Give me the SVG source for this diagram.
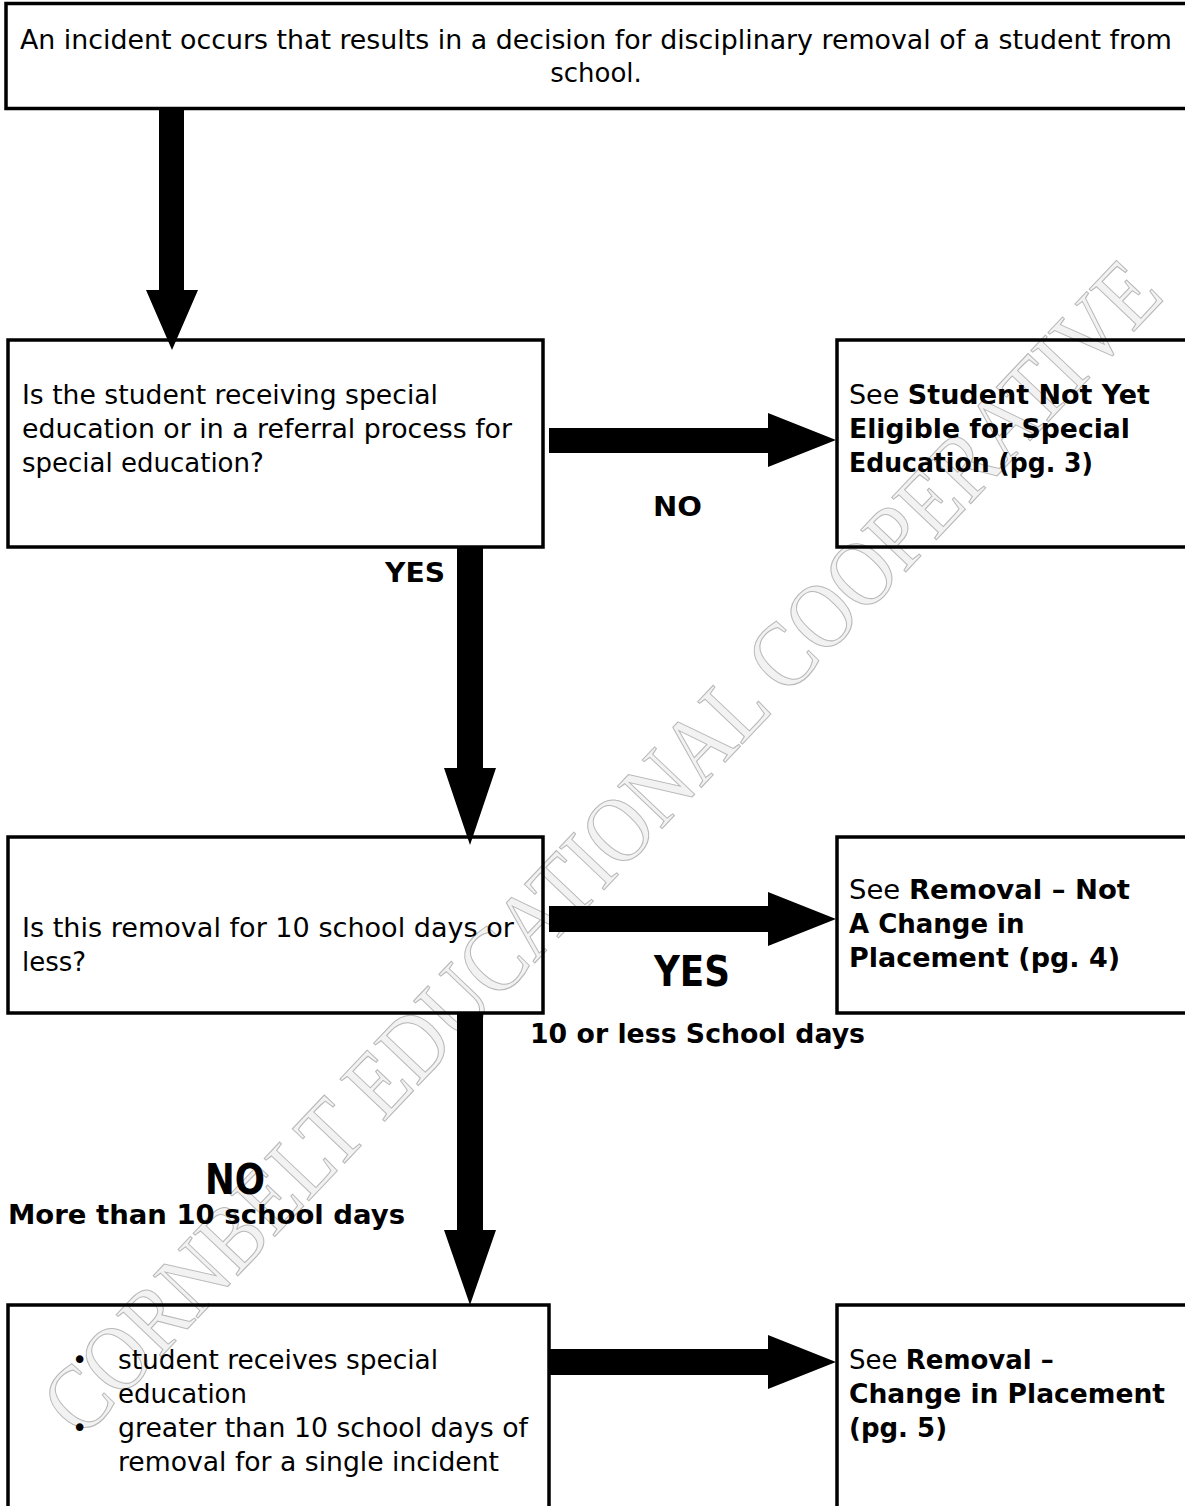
<svg xmlns="http://www.w3.org/2000/svg" width="1185" height="1506" viewBox="0 0 1185 1506">
<style>
.box{fill:none;stroke:#000;stroke-width:3.5}
.t{font-family:"DejaVu Sans",Tahoma,sans-serif;font-size:26px;fill:#000}
.b{font-weight:bold}
.big{font-size:42px}
.arrow{fill:#000;stroke:none}
.wm{font-family:"Liberation Serif",serif;font-size:94px;fill:#f2f2f2;stroke:#b8b8b8;stroke-width:1.1}
</style>
<rect width="1185" height="1506" fill="#fff"/>
<g id="watermark">
<text class="wm" transform="translate(82,1440) rotate(-46.5)" textLength="1575" lengthAdjust="spacingAndGlyphs">CORNBELT EDUCATIONAL COOPERATIVE</text>
</g>
<g id="connectors">
<polygon class="arrow" points="159,108 184,108 184,290 198,290 172,350 146,290 159,290"/>
<polygon class="arrow" points="549,428 768,428 768,413 836,440 768,467 768,453 549,453"/>
<polygon class="arrow" points="457,547 483,547 483,768 496,768 470,845 444,768 457,768"/>
<polygon class="arrow" points="549,906 768,906 768,892 836,919 768,946 768,932 549,932"/>
<polygon class="arrow" points="457,1013 483,1013 483,1230 496,1230 470,1305 444,1230 457,1230"/>
<polygon class="arrow" points="549,1349 768,1349 768,1335 836,1362 768,1389 768,1375 549,1375"/>
<text class="t b" x="653" y="516" textLength="49" lengthAdjust="spacingAndGlyphs">NO</text>
<text class="t b" x="385" y="582" textLength="60" lengthAdjust="spacingAndGlyphs">YES</text>
<text class="t b big" x="654" y="986" textLength="76" lengthAdjust="spacingAndGlyphs">YES</text>
<text class="t b" x="530" y="1043" textLength="335" lengthAdjust="spacingAndGlyphs">10 or less School days</text>
<text class="t b big" x="205" y="1194" textLength="60" lengthAdjust="spacingAndGlyphs">NO</text>
<text class="t b" x="8" y="1224" textLength="397" lengthAdjust="spacingAndGlyphs">More than 10 school days</text>
</g>
<g id="incident">
<rect class="box" x="6" y="3.5" width="1200" height="105"/>
<text class="t" x="20" y="49" textLength="1152" lengthAdjust="spacingAndGlyphs">An incident occurs that results in a decision for disciplinary removal of a student from</text>
<text class="t" x="596" y="82" text-anchor="middle">school.</text>
</g>
<g id="q-special-ed">
<rect class="box" x="8" y="340" width="535" height="207"/>
<text class="t" x="22" y="404" textLength="416" lengthAdjust="spacingAndGlyphs">Is the student receiving special</text>
<text class="t" x="22" y="438" textLength="490" lengthAdjust="spacingAndGlyphs">education or in a referral process for</text>
<text class="t" x="22" y="472">special education?</text>
</g>
<g id="not-eligible">
<rect class="box" x="837" y="340" width="400" height="207"/>
<text class="t" x="849" y="404" textLength="301" lengthAdjust="spacingAndGlyphs">See <tspan class="b">Student Not Yet</tspan></text>
<text class="t b" x="849" y="438" textLength="281" lengthAdjust="spacingAndGlyphs">Eligible for Special</text>
<text class="t b" x="849" y="472" textLength="244" lengthAdjust="spacingAndGlyphs">Education (pg. 3)</text>
</g>
<g id="q-ten-days">
<rect class="box" x="8" y="837" width="535" height="176"/>
<text class="t" x="22" y="937" textLength="492" lengthAdjust="spacingAndGlyphs">Is this removal for 10 school days or</text>
<text class="t" x="22" y="971">less?</text>
</g>
<g id="not-change">
<rect class="box" x="837" y="837" width="400" height="176"/>
<text class="t" x="849" y="899" textLength="281" lengthAdjust="spacingAndGlyphs">See <tspan class="b">Removal – Not</tspan></text>
<text class="t b" x="849" y="933">A Change in</text>
<text class="t b" x="849" y="967" textLength="271" lengthAdjust="spacingAndGlyphs">Placement (pg. 4)</text>
</g>
<g id="more-than-ten">
<rect class="box" x="8" y="1305" width="541" height="260"/>
<text class="t" x="72" y="1369">•</text>
<text class="t" x="118" y="1369" textLength="320" lengthAdjust="spacingAndGlyphs">student receives special</text>
<text class="t" x="118" y="1403">education</text>
<text class="t" x="72" y="1437">•</text>
<text class="t" x="118" y="1437" textLength="410" lengthAdjust="spacingAndGlyphs">greater than 10 school days of</text>
<text class="t" x="118" y="1471" textLength="381" lengthAdjust="spacingAndGlyphs">removal for a single incident</text>
</g>
<g id="change-placement">
<rect class="box" x="837" y="1305" width="400" height="260"/>
<text class="t" x="849" y="1369">See <tspan class="b">Removal –</tspan></text>
<text class="t b" x="849" y="1403" textLength="316" lengthAdjust="spacingAndGlyphs">Change in Placement</text>
<text class="t b" x="849" y="1437">(pg. 5)</text>
</g>
</svg>
